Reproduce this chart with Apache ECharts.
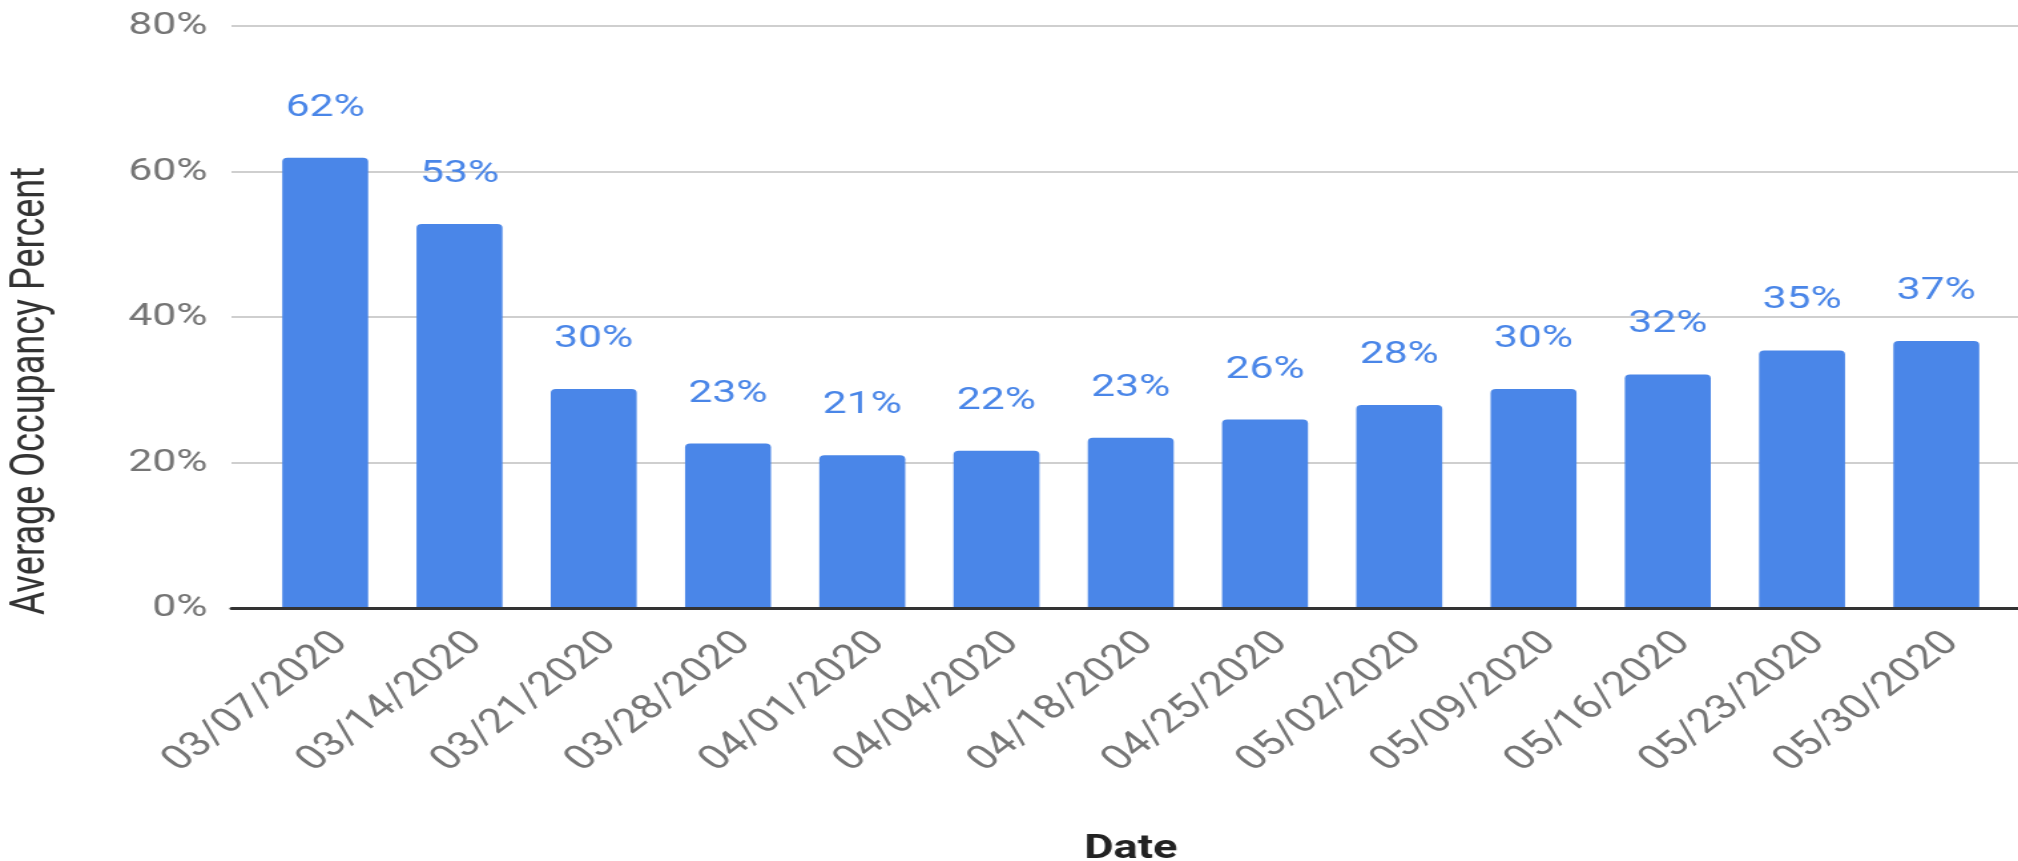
<!DOCTYPE html>
<html>
<head>
<meta charset="utf-8">
<title>Average Occupancy Percent</title>
<script src="https://cdn.jsdelivr.net/npm/echarts@6/dist/echarts.min.js"></script>
<style>
  html, body { margin: 0; padding: 0; background: #fff; overflow: hidden; }
  /* the reference is stretched horizontally, so draw narrower and stretch back */
  #chart { width: 1517px; height: 861px; transform: scaleX(1.3303); transform-origin: 0 0; }
</style>
</head>
<body>
<div id="chart"></div>
<script>
var dates = ['03/07/2020', '03/14/2020', '03/21/2020', '03/28/2020', '04/01/2020', '04/04/2020', '04/18/2020',
  '04/25/2020', '05/02/2020', '05/09/2020', '05/16/2020', '05/23/2020', '05/30/2020']
var occupancy = [61.9, 52.8, 30.1, 22.6, 21.0, 21.6, 23.4, 25.9, 27.9, 30.1, 32.1, 35.4, 36.7]
var yTicks = [0, 20, 40, 60, 80]

var blue = '#4a86e8'
var font = 'Roboto'

var option = {
  animation: false,
  backgroundColor: '#fff',
  grid: [
    // grid 0 only carries the gridlines and the base line (they start further left)
    { left: 174, right: 0, top: 26, bottom: 253, outerBoundsMode: 'none' },
    // grid 1 holds the bars
    { left: 194, right: 11, top: 26, bottom: 253, outerBoundsMode: 'none' }
  ],
  xAxis: [
    {
      type: 'category',
      gridIndex: 0,
      data: dates,
      z: 5,
      axisLine: { show: true, lineStyle: { color: '#333', width: 3 } },
      axisTick: { show: false },
      axisLabel: { show: false }
    },
    {
      type: 'category',
      gridIndex: 1,
      data: dates,
      axisLine: { show: false },
      axisTick: { show: false },
      axisLabel: {
        rotate: 45,
        margin: 18,
        verticalAlign: 'top',
        color: '#757575',
        fontFamily: font,
        fontSize: 34
      },
      name: 'Date',
      nameLocation: 'middle',
      nameGap: 224,
      nameTextStyle: { color: '#222', fontFamily: font, fontSize: 34, fontWeight: 'bold' }
    }
  ],
  yAxis: [
    {
      type: 'value',
      gridIndex: 0,
      min: yTicks[0],
      max: yTicks[yTicks.length - 1],
      interval: 20,
      axisLine: { show: false },
      axisTick: { show: false },
      splitLine: { lineStyle: { color: '#cfcfcf', width: 2 } },
      axisLabel: {
        margin: 18,
        color: '#757575',
        fontFamily: font,
        fontSize: 32,
        formatter: '{value}%'
      },
      name: 'Average Occupancy Percent',
      nameLocation: 'middle',
      nameRotate: 90,
      nameGap: 132,
      nameTextStyle: { color: '#333', fontFamily: font, fontSize: 36, padding: [0, 148, 0, 0] }
    },
    {
      type: 'value',
      gridIndex: 1,
      min: 0,
      max: 80,
      show: false,
      splitLine: { show: false }
    }
  ],
  series: [
    {
      type: 'bar',
      xAxisIndex: 1,
      yAxisIndex: 1,
      data: occupancy,
      barCategoryGap: '36%',
      itemStyle: { color: blue, borderRadius: [4, 4, 0, 0] },
      label: {
        show: true,
        position: 'top',
        distance: 34,
        color: blue,
        fontFamily: font,
        fontSize: 32,
        formatter: function(p) {
          return Math.round(p.value) + '%'
        }
      }
    }
  ]
}

var chart = echarts.init(document.getElementById('chart'))
chart.setOption(option)
</script>
</body>
</html>
